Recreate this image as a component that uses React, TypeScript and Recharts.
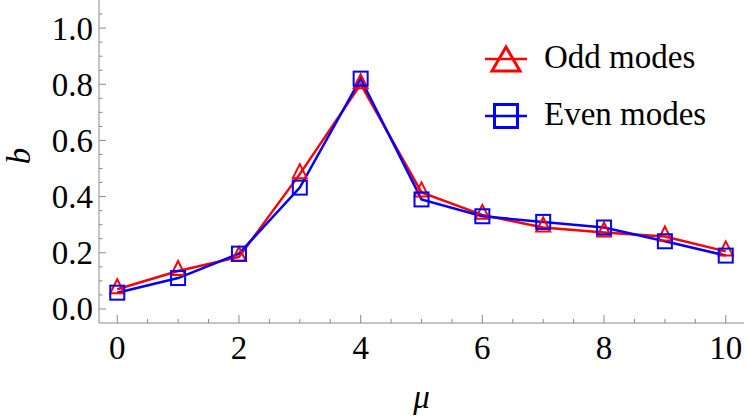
import React from 'react';
import { LineChart, Line, XAxis, YAxis, Legend } from 'recharts';

const muValues = [0, 1, 2, 3, 4, 5, 6, 7, 8, 9, 10];
const oddModes = [0.07, 0.135, 0.185, 0.48, 0.8, 0.415, 0.335, 0.29, 0.272, 0.258, 0.205];
const evenModes = [0.058, 0.11, 0.197, 0.432, 0.82, 0.39, 0.33, 0.31, 0.29, 0.241, 0.19];

const xTicks = [0, 0.5, 1, 1.5, 2, 2.5, 3, 3.5, 4, 4.5, 5, 5.5, 6, 6.5, 7, 7.5, 8, 8.5, 9, 9.5, 10];
const xMajor = [0, 2, 4, 6, 8, 10];
const yTicks = [0, 0.05, 0.1, 0.15, 0.2, 0.25, 0.3, 0.35, 0.4, 0.45, 0.5, 0.55, 0.6, 0.65, 0.7, 0.75, 0.8, 0.85, 0.9, 0.95, 1.0, 1.05];
const yMajor = [0, 0.2, 0.4, 0.6, 0.8, 1.0];

const data = muValues.map((m, i) => ({ mu: m, odd: oddModes[i], even: evenModes[i] }));

const FONT = 'Liberation Serif';
const FRAME = '#8a8a8a';
const RED = '#ff0000';
const BLUE = '#0000ff';
const FS = 33;

const isMajorX = (v: number) => xMajor.some((m) => Math.abs(m - v) < 1e-6);
const isMajorY = (v: number) => yMajor.some((m) => Math.abs(m - v) < 1e-6);

const SerifText = (props: any) => <text fontFamily={FONT} fontSize={FS} fill="#000" {...props} />;

const BottomTick = (p: any) => {
  const v = p.payload.value;
  const major = isMajorX(v);
  const len = major ? 8 : 4;
  return (
    <g>
      <line x1={p.x} x2={p.x} y1={p.y} y2={p.y - len} stroke={FRAME} strokeWidth={1} />
      {major && (
        <SerifText x={p.x} y={p.y + 36} textAnchor="middle">
          {String(v)}
        </SerifText>
      )}
    </g>
  );
};

const TopTick = (p: any) => {
  const v = p.payload.value;
  const len = isMajorX(v) ? 8 : 4;
  return <line x1={p.x} x2={p.x} y1={p.y} y2={p.y + len} stroke={FRAME} strokeWidth={1} />;
};

const LeftTick = (p: any) => {
  const v = p.payload.value;
  const major = isMajorY(v);
  const len = major ? 7 : 3.5;
  return (
    <g>
      <line x1={p.x} x2={p.x + len} y1={p.y} y2={p.y} stroke={FRAME} strokeWidth={1} />
      {major && (
        <SerifText x={p.x - 6} y={p.y + 11.5} textAnchor="end">
          {v.toFixed(1)}
        </SerifText>
      )}
    </g>
  );
};

const RightTick = (p: any) => {
  const v = p.payload.value;
  const len = isMajorY(v) ? 7 : 3.5;
  return <line x1={p.x} x2={p.x - len} y1={p.y} y2={p.y} stroke={FRAME} strokeWidth={1} />;
};

const TriangleDot = (p: any) => {
  const { cx, cy } = p;
  if (cx == null || cy == null) return <g />;
  const pts = `${cx},${cy - 10} ${cx - 7},${cy + 4} ${cx + 7},${cy + 4}`;
  return <polygon key={`t-${p.index}`} points={pts} fill="none" stroke={RED} strokeWidth={2} />;
};

const SquareDot = (p: any) => {
  const { cx, cy } = p;
  if (cx == null || cy == null) return <g />;
  return (
    <rect key={`s-${p.index}`} x={cx - 7} y={cy - 7} width={14} height={14} fill="none" stroke={BLUE} strokeWidth={2} />
  );
};

const LegendIcon = ({ kind, color }: { kind: string; color: string }) => (
  <svg width={52} height={30} style={{ display: 'block', flex: 'none' }}>
    <line x1={5} x2={47} y1={15} y2={15} stroke={color} strokeWidth={2.5} />
    {kind === 'triangle' ? (
      <polygon points="26,3 12,27 40,27" fill="none" stroke={color} strokeWidth={3} />
    ) : (
      <rect x={14.5} y={3.5} width={23} height={23} fill="none" stroke={color} strokeWidth={3} />
    )}
  </svg>
);

const LegendContent = (props: any) => {
  const payload = (props.payload || []) as any[];
  const rows = [
    { name: 'Odd modes', kind: 'triangle', fallback: RED },
    { name: 'Even modes', kind: 'square', fallback: BLUE },
  ];
  return (
    <div style={{ fontFamily: "'Liberation Serif', 'Times New Roman', serif", fontSize: FS, color: '#000' }}>
      {rows.map((r) => {
        const entry = payload.find((e) => e.value === r.name);
        const color = entry ? entry.color : r.fallback;
        return (
          <div key={r.name} style={{ display: 'flex', alignItems: 'center', height: 57, whiteSpace: 'nowrap' }}>
            <LegendIcon kind={r.kind} color={color} />
            <span style={{ marginLeft: 12, lineHeight: '57px', position: 'relative', top: -1 }}>{r.name}</span>
          </div>
        );
      })}
    </div>
  );
};

export default function App() {
  return (
    <div
      style={{
        position: 'absolute',
        left: 0,
        top: 0,
        width: 747,
        height: 420,
        background: '#fff',
        fontFamily: "'Liberation Serif', serif",
      }}
    >
      <LineChart width={747} height={420} data={data} margin={{ top: 0, right: 3, bottom: 0, left: 0 }}>
        <XAxis
          xAxisId="bottom"
          dataKey="mu"
          type="number"
          domain={[-0.3, 10.3]}
          ticks={xTicks}
          interval={0}
          allowDataOverflow
          height={97}
          tickSize={0}
          tickMargin={0}
          tickLine={false}
          axisLine={{ stroke: FRAME, strokeWidth: 1 }}
          tick={(p: any) => <BottomTick {...p} />}
          label={() => (
            <SerifText x={421.5} y={408} textAnchor="middle" fontStyle="italic">
              μ
            </SerifText>
          )}
        />
        <XAxis
          xAxisId="top"
          orientation="top"
          dataKey="mu"
          type="number"
          domain={[-0.3, 10.3]}
          ticks={xTicks}
          interval={0}
          allowDataOverflow
          height={0}
          tickSize={0}
          tickMargin={0}
          tickLine={false}
          axisLine={{ stroke: FRAME, strokeWidth: 1 }}
          tick={(p: any) => <TopTick {...p} />}
        />
        <YAxis
          yAxisId="left"
          type="number"
          domain={[-0.05, 1.1]}
          ticks={yTicks}
          interval={0}
          allowDataOverflow
          width={99}
          tickSize={0}
          tickMargin={0}
          tickLine={false}
          axisLine={{ stroke: FRAME, strokeWidth: 1 }}
          tick={(p: any) => <LeftTick {...p} />}
          label={() => (
            <SerifText x={30} y={156} transform="rotate(-90 30 156)" textAnchor="middle" fontStyle="italic">
              b
            </SerifText>
          )}
        />
        <YAxis
          yAxisId="right"
          orientation="right"
          type="number"
          domain={[-0.05, 1.1]}
          ticks={yTicks}
          interval={0}
          allowDataOverflow
          width={0}
          tickSize={0}
          tickMargin={0}
          tickLine={false}
          axisLine={{ stroke: FRAME, strokeWidth: 1 }}
          tick={(p: any) => <RightTick {...p} />}
        />
        <Line
          xAxisId="bottom"
          yAxisId="left"
          type="linear"
          dataKey="odd"
          name="Odd modes"
          stroke={RED}
          strokeWidth={2.5}
          dot={(p: any) => <TriangleDot {...p} />}
          activeDot={false}
          isAnimationActive={false}
        />
        <Line
          xAxisId="bottom"
          yAxisId="left"
          type="linear"
          dataKey="even"
          name="Even modes"
          stroke={BLUE}
          strokeWidth={2.5}
          dot={(p: any) => <SquareDot {...p} />}
          activeDot={false}
          isAnimationActive={false}
        />
        <Legend
          layout="vertical"
          align="center"
          verticalAlign="middle"
          content={(p: any) => <LegendContent {...p} />}
          wrapperStyle={{ position: 'absolute', left: 480, top: 30, width: 267, height: 114 }}
        />
      </LineChart>
    </div>
  );
}
